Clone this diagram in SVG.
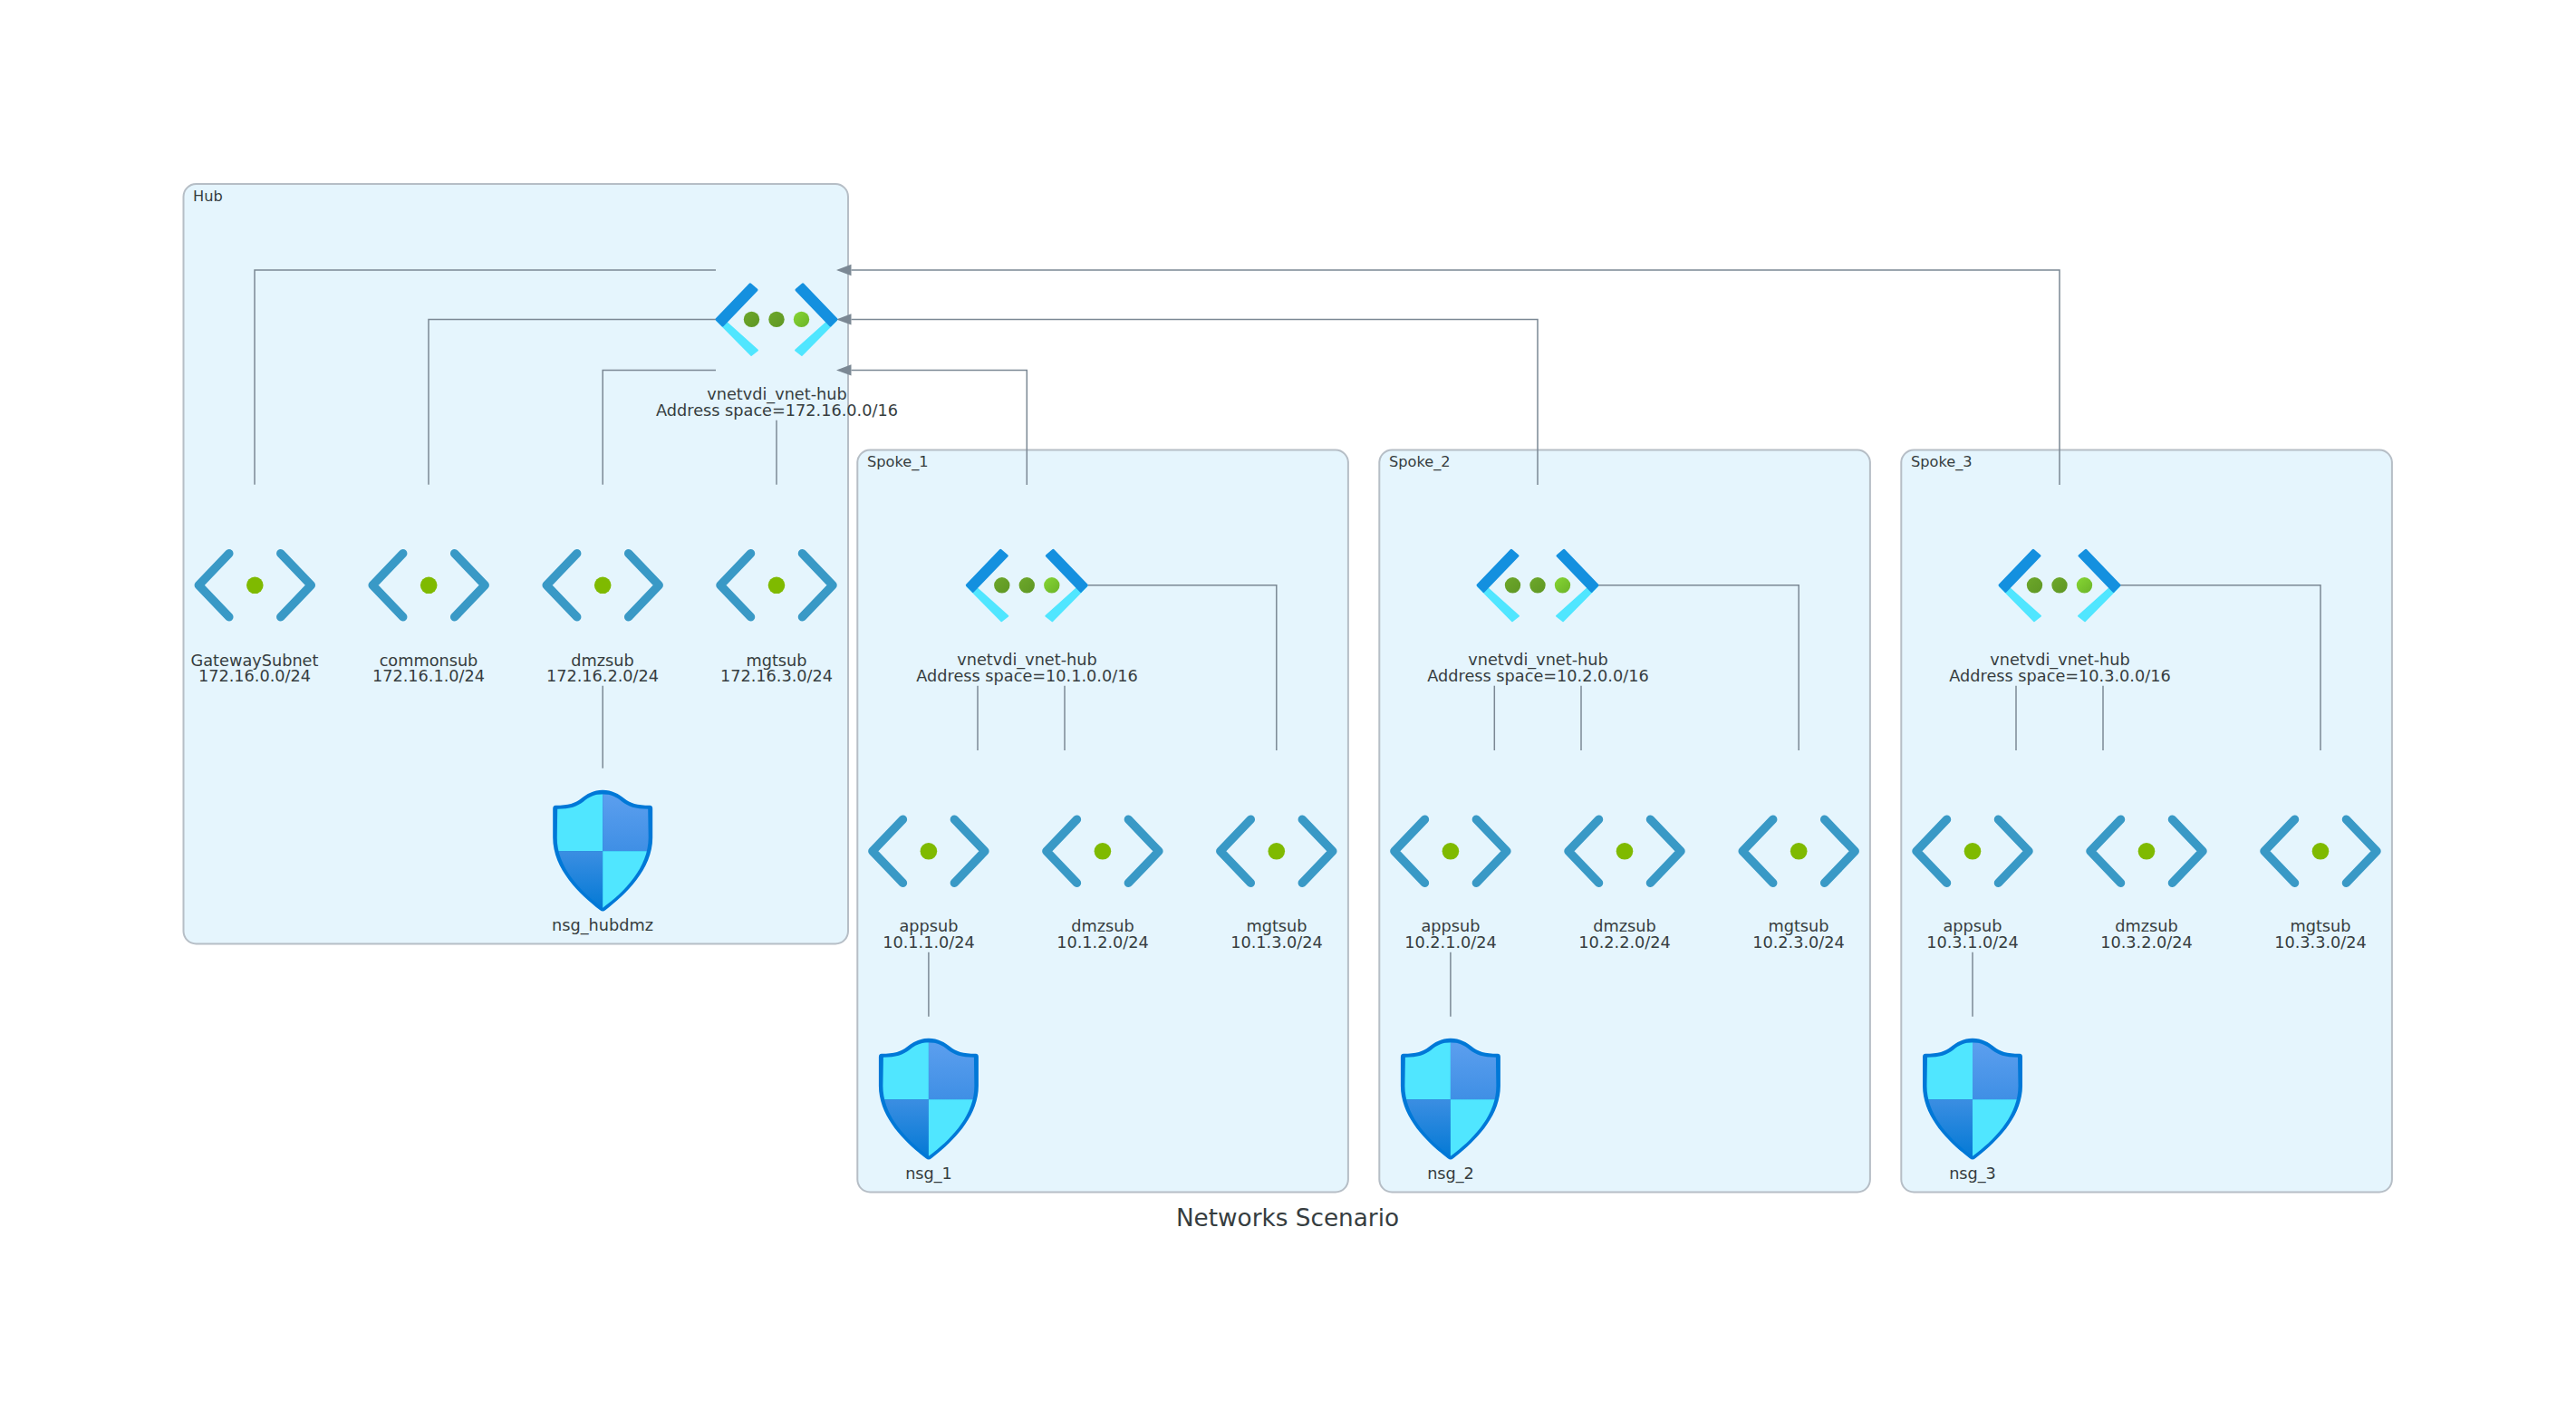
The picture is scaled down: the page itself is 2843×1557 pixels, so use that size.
<svg xmlns="http://www.w3.org/2000/svg" width="2843" height="1557" viewBox="0 0 2843 1557">
<style>
text{font-family:"DejaVu Sans",sans-serif;fill:#363d40}
.lbl{font-size:17.7px;text-anchor:middle}
.cl{font-size:16.2px}
.title{font-size:26.3px;text-anchor:middle}
.panel{fill:#E5F5FD;stroke:#B6BEC6;stroke-width:2}
.edge{fill:none;stroke:#7B8894;stroke-width:1.5}
.arrow{marker-end:url(#ah)}
</style>
<defs>
<marker id="ah" markerUnits="userSpaceOnUse" markerWidth="18" markerHeight="14" refX="0" refY="7" orient="auto" viewBox="0 0 18 14"><path d="M0,0.8L16.500,7L0,13.2Z" fill="#7B8894"/></marker>
<linearGradient id="g1" x1="0" y1="0" x2="1" y2="1"><stop offset="0" stop-color="#6da82a"/><stop offset="1" stop-color="#5e9624"/></linearGradient>
<linearGradient id="g2" x1="0" y1="0" x2="1" y2="1"><stop offset="0" stop-color="#86d633"/><stop offset="1" stop-color="#6bb328"/></linearGradient>
<linearGradient id="s1" x1="0" y1="0" x2="0" y2="1"><stop offset="0" stop-color="#5ea0ef"/><stop offset="1" stop-color="#3f8fe5"/></linearGradient>
<linearGradient id="s2" x1="0" y1="0" x2="0" y2="1"><stop offset="0" stop-color="#3b8ee2"/><stop offset="1" stop-color="#0078d4"/></linearGradient>
<clipPath id="sc"><path d="M-50,-46.500C-36,-46.500-28,-49.500-21.500,-54.500C-15,-60-9,-63 0,-63C9,-63 15,-60 21.500,-54.500C28,-49.500 36,-46.500 50,-46.500L50.500,-15C50.500,18 24,45 0,62.500C-24,45-50.500,18-50.500,-15Z"/></clipPath>
<g id="vnet">
<path d="M-60,-1L-21,34L-28,39.500L-66,1Z" fill="#50E6FF" stroke="#50E6FF" stroke-width="2" stroke-linejoin="round"/>
<path d="M60,-1L21,34L28,39.500L66,1Z" fill="#50E6FF" stroke="#50E6FF" stroke-width="2" stroke-linejoin="round"/>
<path d="M-66,0L-29,-38.500L-22,-32.500L-59.500,6.500Z" fill="#1490DF" stroke="#1490DF" stroke-width="3" stroke-linejoin="round"/>
<path d="M66,0L29,-38.500L22,-32.500L59.500,6.500Z" fill="#1490DF" stroke="#1490DF" stroke-width="3" stroke-linejoin="round"/>
<circle cx="-27.500" r="8.700" fill="url(#g1)"/><circle cx="0" r="8.700" fill="url(#g1)"/><circle cx="27.500" r="8.700" fill="url(#g2)"/>
</g>
<g id="subnet">
<path d="M-28.500,-35L-62,0L-28.500,35M28.500,-35L62,0L28.500,35" fill="none" stroke="#3999C6" stroke-width="9.500" stroke-linecap="round" stroke-linejoin="round"/>
<circle r="9.300" fill="#7FBA00"/>
</g>
<g id="shield">
<path d="M-52,-50.500C-38,-50.500-30,-53-24,-58C-18,-63-10,-67.500 0,-67.500C10,-67.500 18,-63 24,-58C30,-53 38,-50.500 52,-50.500Q55,-50.500 55,-47L55,-15C55,20 25,48 3,65Q0,67.500-3,65C-25,48-55,20-55,-15L-55,-47Q-55,-50.500-52,-50.500Z" fill="#0078D7"/>
<g clip-path="url(#sc)">
<rect x="-55" y="-68" width="55" height="68" fill="#50E6FF"/>
<rect x="0" y="-68" width="55" height="68" fill="url(#s1)"/>
<rect x="-55" y="0" width="55" height="68" fill="url(#s2)"/>
<rect x="0" y="0" width="55" height="68" fill="#50E6FF"/>
</g>
</g>
</defs>
<rect width="2843" height="1557" fill="#fff"/>
<g id="clusters">
<g id="cluster-hub"><rect class="panel" x="202.500" y="203" width="733.500" height="838.500" rx="14"/><text class="cl" x="213" y="221.500">Hub</text></g>
<g id="cluster-spoke1"><rect class="panel" x="946.300" y="496.500" width="541.600" height="819" rx="14"/><text class="cl" x="957" y="515">Spoke_1</text></g>
<g id="cluster-spoke2"><rect class="panel" x="1522.300" y="496.500" width="541.600" height="819" rx="14"/><text class="cl" x="1533" y="515">Spoke_2</text></g>
<g id="cluster-spoke3"><rect class="panel" x="2098.300" y="496.500" width="541.600" height="819" rx="14"/><text class="cl" x="2109" y="515">Spoke_3</text></g>
</g>
<g id="connectors" transform="translate(0,0.700)">
<path class="edge" d="M790,297.300H281V534"/>
<path class="edge" d="M790,351.700H473V534"/>
<path class="edge" d="M790,407.700H665.200V534"/>
<path class="edge" d="M857,463V534"/>
<path class="edge" d="M665.200,756V847"/>
<path class="edge arrow" d="M1133.300,534.300V407.700H939.500"/>
<path class="edge arrow" d="M1697,534.300V351.700H939.500"/>
<path class="edge arrow" d="M2273,534.300V297.300H939.500"/>
<path class="edge" d="M1200.500,645H1408.800V827.300"/>
<path class="edge" d="M1079,756V827.300"/>
<path class="edge" d="M1175,756V827.300"/>
<path class="edge" d="M1764,645H1985.200V827.300"/>
<path class="edge" d="M1649.300,756V827.300"/>
<path class="edge" d="M1745,756V827.300"/>
<path class="edge" d="M2340,645H2561V827.300"/>
<path class="edge" d="M2225,756V827.300"/>
<path class="edge" d="M2321,756V827.300"/>
<path class="edge" d="M1024.900,1050V1121"/>
<path class="edge" d="M1600.900,1050V1121"/>
<path class="edge" d="M2177,1050V1121"/>
</g>
<g id="node-hub-vnet"><use href="#vnet" x="857" y="352.400"/><text class="lbl" x="857.500" y="440.500">vnetvdi_vnet-hub</text><text class="lbl" x="857.500" y="459">Address space=172.16.0.0/16</text></g>
<g id="node-hub-gw"><use href="#subnet" x="281.300" y="645.800"/><text class="lbl" x="281" y="734.500">GatewaySubnet</text><text class="lbl" x="281" y="752.300">172.16.0.0/24</text></g>
<g id="node-hub-common"><use href="#subnet" x="473.200" y="645.800"/><text class="lbl" x="473" y="734.500">commonsub</text><text class="lbl" x="473" y="752.300">172.16.1.0/24</text></g>
<g id="node-hub-dmz"><use href="#subnet" x="665.200" y="645.800"/><text class="lbl" x="665" y="734.500">dmzsub</text><text class="lbl" x="665" y="752.300">172.16.2.0/24</text></g>
<g id="node-hub-mgt"><use href="#subnet" x="857" y="645.800"/><text class="lbl" x="857" y="734.500">mgtsub</text><text class="lbl" x="857" y="752.300">172.16.3.0/24</text></g>
<g id="node-nsg-hubdmz"><use href="#shield" x="665.200" y="939.200"/><text class="lbl" x="665" y="1026.500">nsg_hubdmz</text></g>

<g id="node-s1-vnet"><use href="#vnet" x="1133.300" y="645.800"/><text class="lbl" x="1133.500" y="734">vnetvdi_vnet-hub</text><text class="lbl" x="1133.500" y="752.300">Address space=10.1.0.0/16</text></g>
<g id="node-s1-app"><use href="#subnet" x="1024.900" y="939.300"/><text class="lbl" x="1025" y="1028">appsub</text><text class="lbl" x="1025" y="1046">10.1.1.0/24</text></g>
<g id="node-s1-dmz"><use href="#subnet" x="1216.900" y="939.300"/><text class="lbl" x="1217" y="1028">dmzsub</text><text class="lbl" x="1217" y="1046">10.1.2.0/24</text></g>
<g id="node-s1-mgt"><use href="#subnet" x="1408.800" y="939.300"/><text class="lbl" x="1409" y="1028">mgtsub</text><text class="lbl" x="1409" y="1046">10.1.3.0/24</text></g>
<g id="node-nsg-1"><use href="#shield" x="1024.900" y="1213.200"/><text class="lbl" x="1025" y="1300.800">nsg_1</text></g>

<g id="node-s2-vnet"><use href="#vnet" x="1697" y="645.800"/><text class="lbl" x="1697.500" y="734">vnetvdi_vnet-hub</text><text class="lbl" x="1697.500" y="752.300">Address space=10.2.0.0/16</text></g>
<g id="node-s2-app"><use href="#subnet" x="1600.900" y="939.300"/><text class="lbl" x="1601" y="1028">appsub</text><text class="lbl" x="1601" y="1046">10.2.1.0/24</text></g>
<g id="node-s2-dmz"><use href="#subnet" x="1793" y="939.300"/><text class="lbl" x="1793" y="1028">dmzsub</text><text class="lbl" x="1793" y="1046">10.2.2.0/24</text></g>
<g id="node-s2-mgt"><use href="#subnet" x="1985.200" y="939.300"/><text class="lbl" x="1985" y="1028">mgtsub</text><text class="lbl" x="1985" y="1046">10.2.3.0/24</text></g>
<g id="node-nsg-2"><use href="#shield" x="1600.900" y="1213.200"/><text class="lbl" x="1601" y="1300.800">nsg_2</text></g>

<g id="node-s3-vnet"><use href="#vnet" x="2273" y="645.800"/><text class="lbl" x="2273.500" y="734">vnetvdi_vnet-hub</text><text class="lbl" x="2273.500" y="752.300">Address space=10.3.0.0/16</text></g>
<g id="node-s3-app"><use href="#subnet" x="2177" y="939.300"/><text class="lbl" x="2177" y="1028">appsub</text><text class="lbl" x="2177" y="1046">10.3.1.0/24</text></g>
<g id="node-s3-dmz"><use href="#subnet" x="2369" y="939.300"/><text class="lbl" x="2369" y="1028">dmzsub</text><text class="lbl" x="2369" y="1046">10.3.2.0/24</text></g>
<g id="node-s3-mgt"><use href="#subnet" x="2561" y="939.300"/><text class="lbl" x="2561" y="1028">mgtsub</text><text class="lbl" x="2561" y="1046">10.3.3.0/24</text></g>
<g id="node-nsg-3"><use href="#shield" x="2177" y="1213.200"/><text class="lbl" x="2177" y="1300.800">nsg_3</text></g>

<text class="title" x="1421" y="1352.800">Networks Scenario</text>
</svg>
